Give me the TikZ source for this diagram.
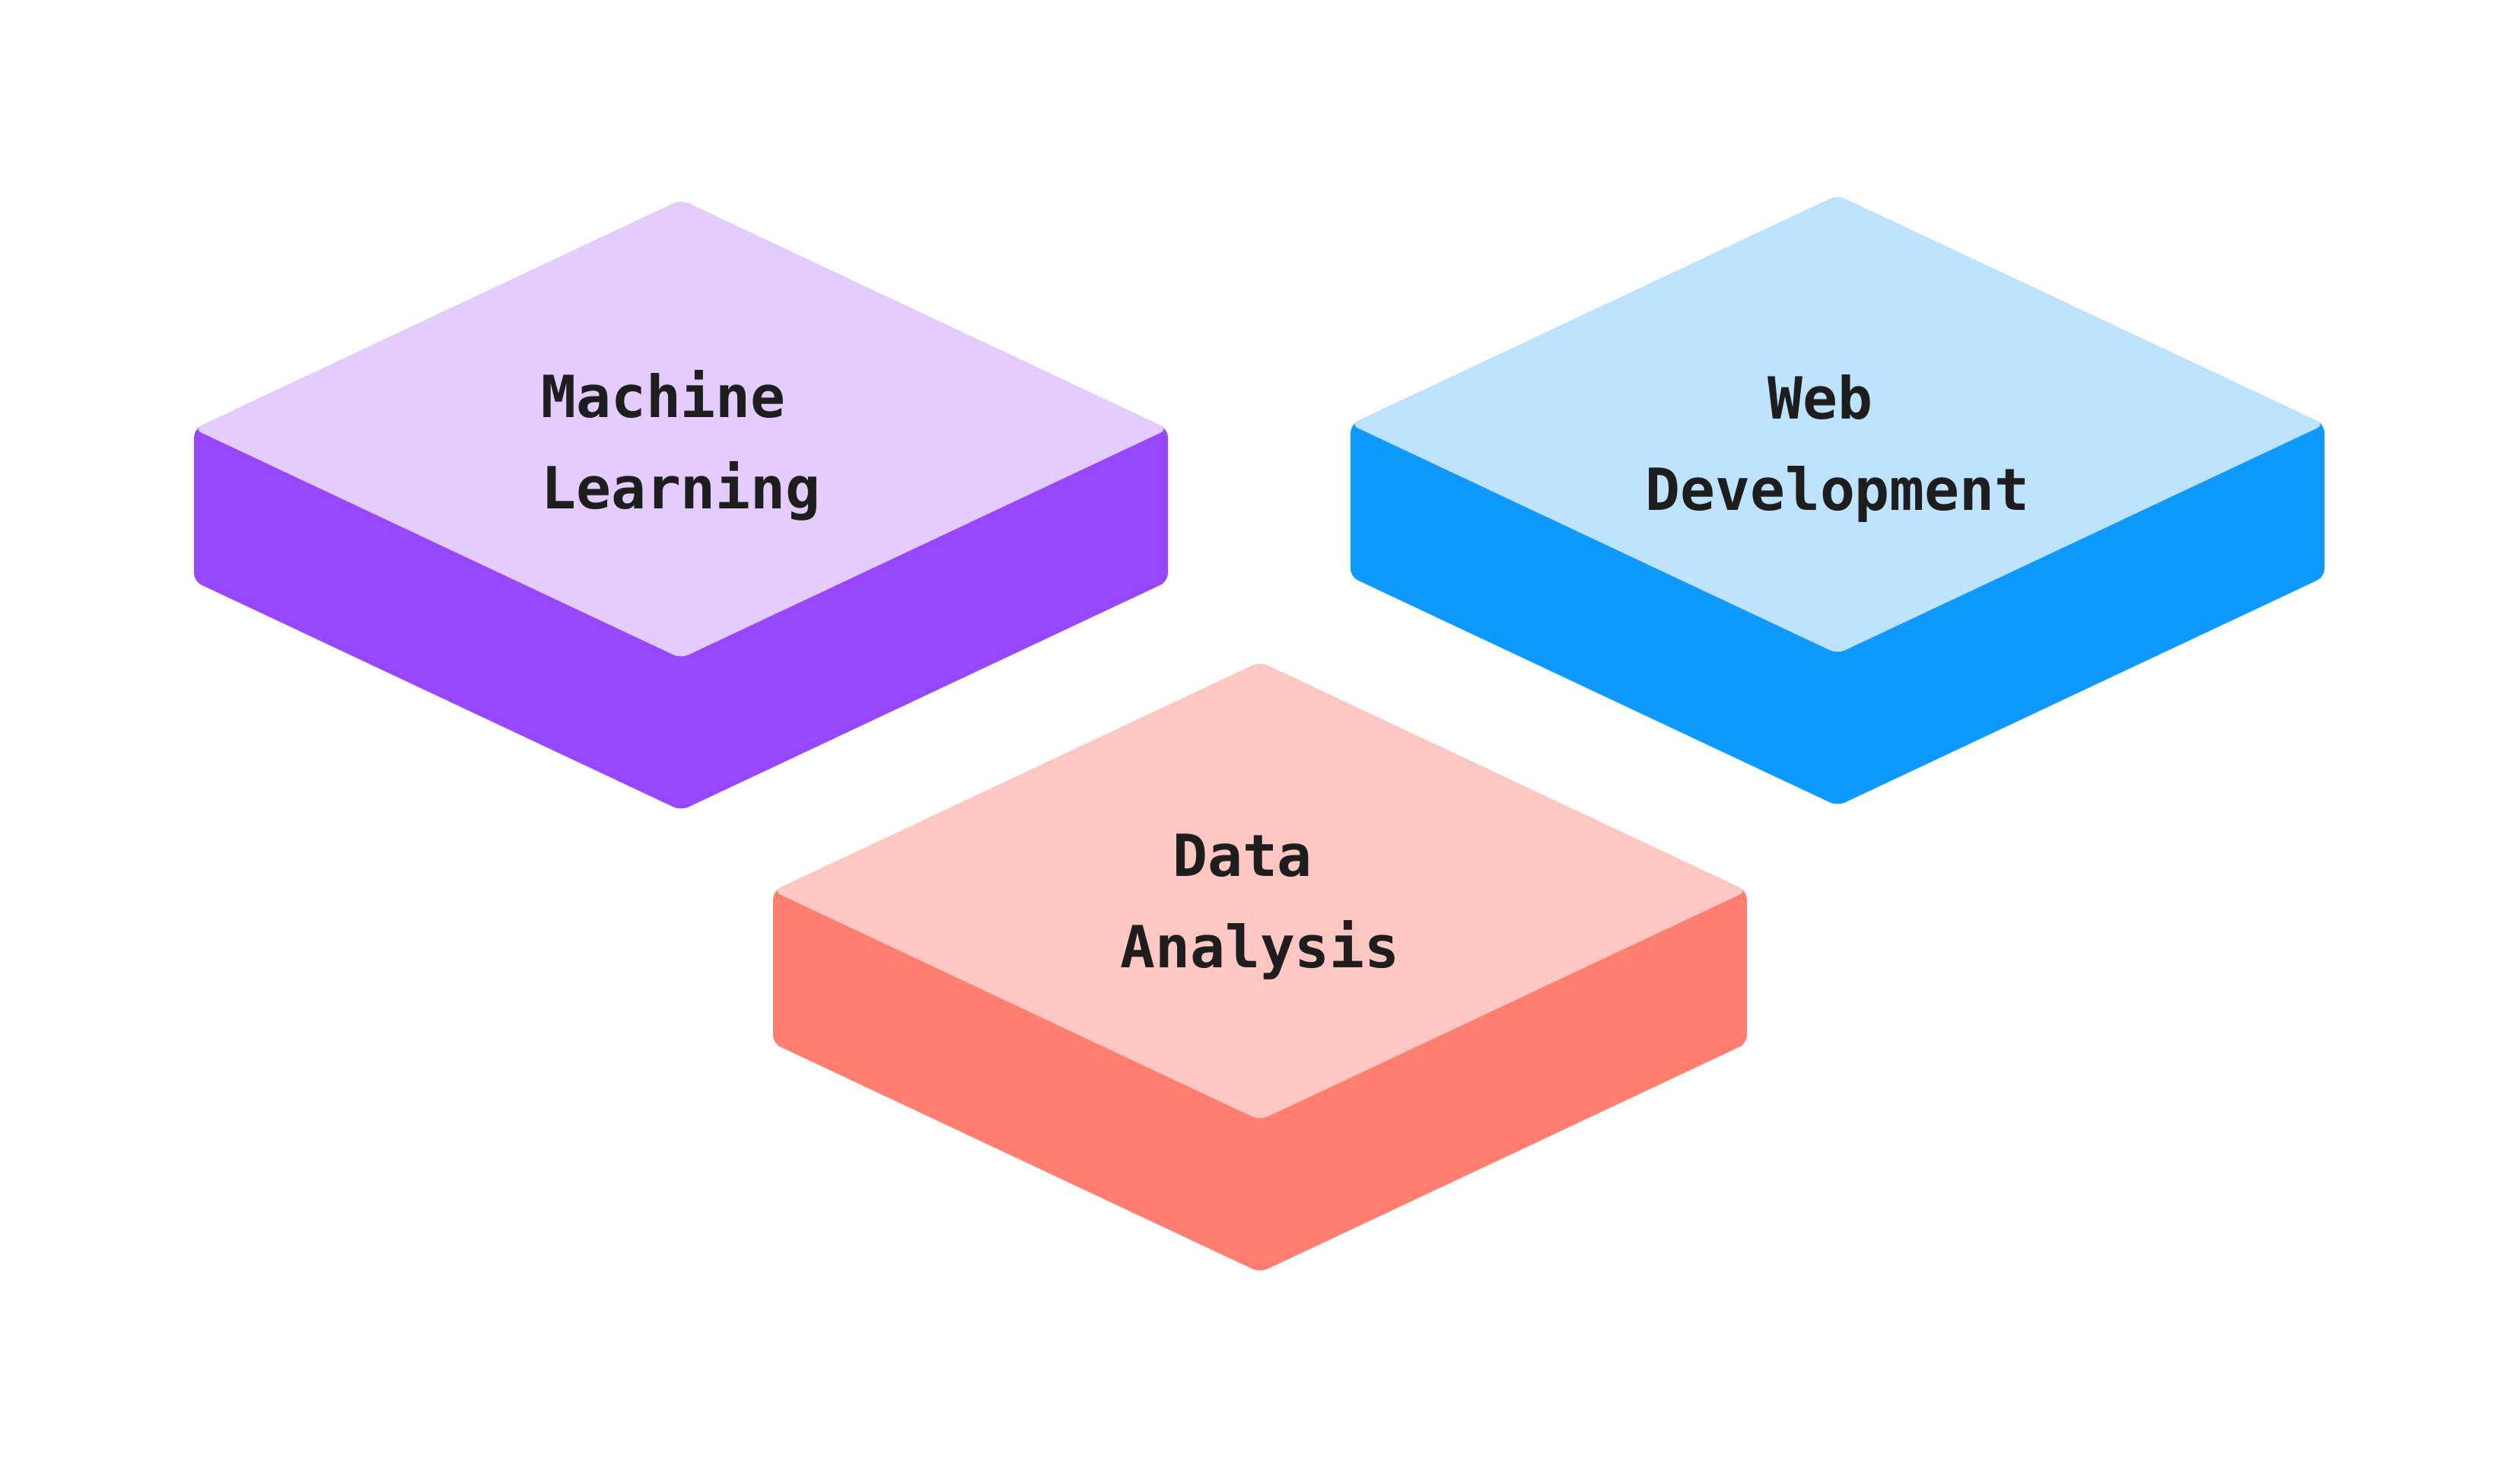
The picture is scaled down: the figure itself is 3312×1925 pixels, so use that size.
\documentclass[tikz,border=0pt]{standalone}
\usepackage{fontspec}
\setmonofont{DejaVu Sans Mono}
\definecolor{purpleside}{HTML}{9747FF}
\definecolor{purpletop}{HTML}{E4CCFF}
\definecolor{blueside}{HTML}{0D99FF}
\definecolor{bluetop}{HTML}{BDE3FF}
\definecolor{redside}{HTML}{FF7E70}
\definecolor{redtop}{HTML}{FFC7C2}
\definecolor{textdark}{HTML}{1E1E1E}
\tikzset{
  face/.style={rounded corners=3pt},
  lbl/.style={font=\ttfamily\bfseries\fontsize{21.7}{26}\selectfont, text=textdark, anchor=base, inner sep=0pt}
}
\newcommand\isotile[2]{%
  \fill[face, #1] (-640,0) -- (0,-301) -- (640,0) -- (640,200) -- (0,501) -- (-640,200) -- cycle;
  \fill[face, #2] (-640,0) -- (0,-301) -- (640,0) -- (0,301) -- cycle;
}
\begin{document}
\begin{tikzpicture}[x=0.01cm, y=-0.01cm]
  \fill[white] (0,0) rectangle (3312,1925);
  \useasboundingbox (0,0) rectangle (3312,1925);
  % Machine Learning
  \begin{scope}[shift={(895,564)}]
    \isotile{purpleside}{purpletop}
    \node[lbl] (ml1) at (0,-15) {Machine\phantom{e}};
    \node[lbl] (ml2) at (0,105) {Learning};
  \end{scope}
  % Web Development
  \begin{scope}[shift={(2415,558)}]
    \isotile{blueside}{bluetop}
    \node[lbl] (wd1) at (0,-7) {Web\phantom{e}};
    \node[lbl] (wd2) at (0,113) {Development};
  \end{scope}
  % Data Analysis
  \begin{scope}[shift={(1656,1171)}]
    \isotile{redside}{redtop}
    \node[lbl] (da1) at (0,-20) {Data\phantom{e}};
    \node[lbl] (da2) at (0,100) {Analysis};
  \end{scope}
\end{tikzpicture}
\end{document}
